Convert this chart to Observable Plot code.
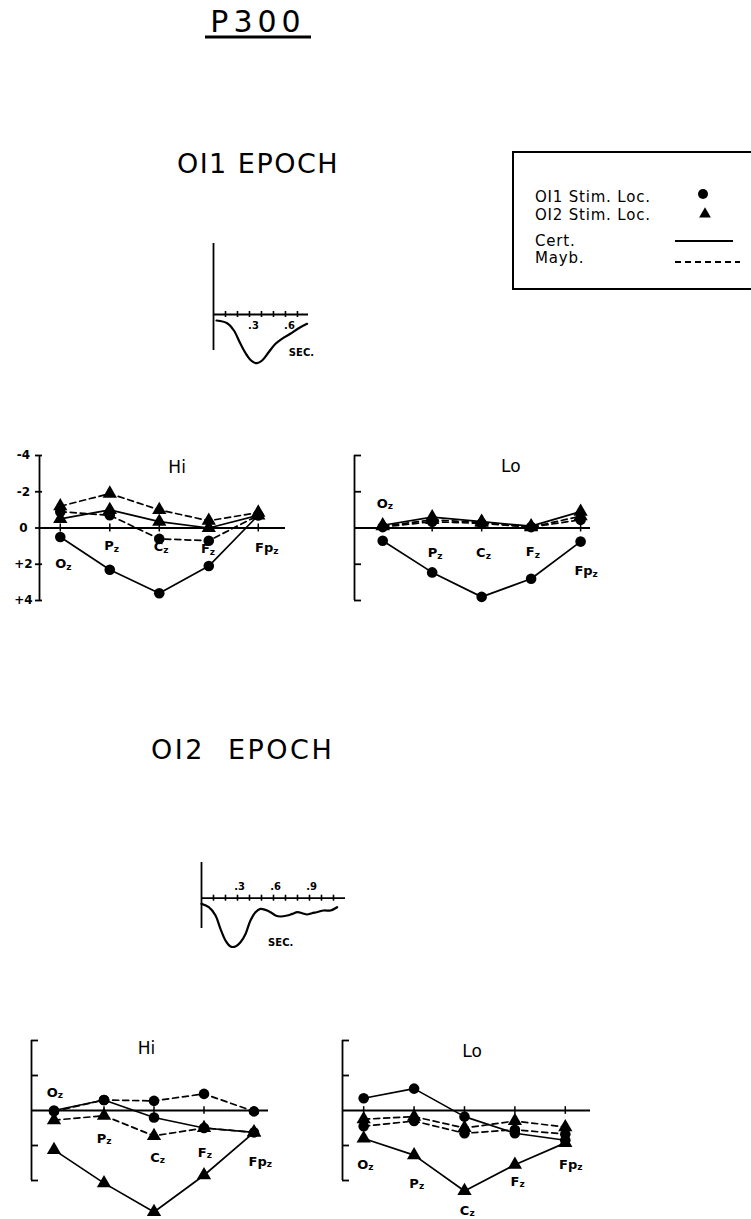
<!DOCTYPE html>
<html><head><meta charset="utf-8">
<script src="https://cdn.jsdelivr.net/npm/d3@7"></script>
<script src="https://cdn.jsdelivr.net/npm/@observablehq/plot@0.6"></script>
<style>
html,body{margin:0;padding:0;background:#fff;}
body{width:751px;height:1219px;overflow:hidden;position:relative;font-family:"DejaVu Sans",sans-serif;color:#000;}
.abs{position:absolute;}
svg{overflow:visible;}
</style></head><body>
<script>
// ---------- DATA ----------
const electrodes = ["O", "P", "C", "F", "Fp"];   // each with subscript "z"
const electrodeSub = "z";
const stimLocs = ["OI1", "OI2"];                // OI1 = circle, OI2 = triangle
const ratings = ["Cert", "Mayb"];               // Cert = solid, Mayb = dashed
const yTicks = [-4, -2, 0, 2, 4];
const yTickLabels = ["-4", "-2", "0", "+2", "+4"];
const bracketTicks = [-4, -2, 2, 4];

// OI1 epoch, Hi
const oi1Hi_OI1Cert = [0.5, 2.3, 3.6, 2.1, -0.7];
const oi1Hi_OI1Mayb = [-0.9, -0.7, 0.6, 0.7, -0.7];
const oi1Hi_OI2Cert = [-0.5, -1.0, -0.35, 0.0, -0.7];
const oi1Hi_OI2Mayb = [-1.2, -1.9, -1.0, -0.4, -0.85];
// OI1 epoch, Lo
const oi1Lo_OI1Cert = [0.7, 2.45, 3.8, 2.8, 0.75];
const oi1Lo_OI1Mayb = [-0.05, -0.35, -0.25, -0.05, -0.45];
const oi1Lo_OI2Cert = [-0.15, -0.6, -0.35, -0.1, -0.9];
const oi1Lo_OI2Mayb = [-0.1, -0.45, -0.3, -0.05, -0.65];
// OI2 epoch, Hi
const oi2Hi_OI1Cert = [0.0, -0.6, 0.4, 1.0, 1.25];
const oi2Hi_OI1Mayb = [0.05, -0.6, -0.55, -0.95, 0.05];
const oi2Hi_OI2Cert = [2.25, 4.15, 5.8, 3.7, 1.25];
const oi2Hi_OI2Mayb = [0.55, 0.3, 1.45, 1.0, 1.25];
// OI2 epoch, Lo
const oi2Lo_OI1Cert = [-0.7, -1.25, 0.35, 1.3, 1.7];
const oi2Lo_OI1Mayb = [0.9, 0.6, 1.3, 1.1, 1.35];
const oi2Lo_OI2Cert = [1.6, 2.55, 4.6, 3.1, 1.85];
const oi2Lo_OI2Mayb = [0.5, 0.35, 1.0, 0.6, 0.95];

// inset waveforms (time in s, amplitude, positive downward)
const wave1T = [0.025, 0.114, 0.17, 0.225, 0.28, 0.32, 0.364, 0.405, 0.46, 0.517, 0.57, 0.64, 0.71, 0.78];
const wave1A = [0.6, 0.87, 1.6, 2.93, 4.1, 4.67, 4.87, 4.6, 3.77, 2.93, 2.43, 1.93, 1.37, 0.93];
const wave1Ticks = [0.1, 0.2, 0.3, 0.4, 0.5, 0.6, 0.7];
const wave1TickT = [0.3, 0.6];
const wave1TickLabels = [".3", ".6"];

const wave2T = [0, 0.061, 0.117, 0.158, 0.2, 0.242, 0.283, 0.325, 0.367, 0.408, 0.45, 0.49, 0.533, 0.575, 0.617, 0.658, 0.714, 0.756, 0.8, 0.839, 0.88, 0.92, 0.96, 1.02, 1.075, 1.13];
const wave2A = [0.57, 0.9, 1.73, 3.07, 4.23, 4.83, 4.83, 4.4, 3.57, 2.23, 1.4, 1.07, 1.17, 1.4, 1.73, 1.83, 1.73, 1.57, 1.4, 1.5, 1.63, 1.5, 1.4, 1.23, 1.23, 0.9];
const wave2Ticks = [0.1, 0.2, 0.3, 0.4, 0.5, 0.6, 0.7, 0.8, 0.9, 1.0, 1.1];
const wave2TickT = [0.3, 0.6, 0.9];
const wave2TickLabels = [".3", ".6", ".9"];

const panelValues = {
  oi1Hi: {OI1Cert: oi1Hi_OI1Cert, OI1Mayb: oi1Hi_OI1Mayb, OI2Cert: oi1Hi_OI2Cert, OI2Mayb: oi1Hi_OI2Mayb},
  oi1Lo: {OI1Cert: oi1Lo_OI1Cert, OI1Mayb: oi1Lo_OI1Mayb, OI2Cert: oi1Lo_OI2Cert, OI2Mayb: oi1Lo_OI2Mayb},
  oi2Hi: {OI1Cert: oi2Hi_OI1Cert, OI1Mayb: oi2Hi_OI1Mayb, OI2Cert: oi2Hi_OI2Cert, OI2Mayb: oi2Hi_OI2Mayb},
  oi2Lo: {OI1Cert: oi2Lo_OI1Cert, OI1Mayb: oi2Lo_OI1Mayb, OI2Cert: oi2Lo_OI2Cert, OI2Mayb: oi2Lo_OI2Mayb}
};

// ---------- LAYOUT ----------
const panels = [
  {key: "oi1Hi", title: "Hi", numbered: true, left: 0, top: 440, width: 300, height: 180,
   marginLeft: 39, marginRight: 15, marginTop: 15, marginBottom: 20, xDomain: [-0.42, 4.55],
   titleX: 2.36, titleY: -3.35, labDx: [6, 4, 4, 1, 15], labY: [1.98, 0.99, 1.04, 1.15, 1.1]},
  {key: "oi1Lo", title: "Lo", numbered: false, left: 330, top: 440, width: 290, height: 180,
   marginLeft: 24, marginRight: 30, marginTop: 15, marginBottom: 20, xDomain: [-0.57, 4.2],
   titleX: 2.59, titleY: -3.4, labDx: [5, 5, 4, 3.5, 12], labY: [-1.35, 1.37, 1.37, 1.32, 2.37]},
  {key: "oi2Hi", title: "Hi", numbered: false, left: 0, top: 1025, width: 300, height: 194,
   marginLeft: 31, marginRight: 32, marginTop: 15, marginBottom: 39, xDomain: [-0.45, 4.29],
   titleX: 1.85, titleY: -3.54, labDx: [3.7, 2.2, 5.7, 2.7, 12.7], labY: [-1.03, 1.6, 2.69, 2.4, 2.91]},
  {key: "oi2Lo", title: "Lo", numbered: false, left: 320, top: 1025, width: 300, height: 194,
   marginLeft: 22, marginRight: 30, marginTop: 15, marginBottom: 39, xDomain: [-0.42, 4.5],
   titleX: 2.15, titleY: -3.37, labDx: [4.7, 4.8, 4.9, 4.5, 12], labY: [3.09, 4.17, 5.71, 4.06, 3.09]}
];

const insets = [
  {t: wave1T, a: wave1A, ticks: wave1Ticks, tickT: wave1TickT, tickLabels: wave1TickLabels,
   left: 200, top: 235, width: 130, height: 140, marginLeft: 13, marginRight: 22, marginTop: 8, marginBottom: 25,
   xDomain: [0, 0.792], yDomain: [3.6, -7.1], labelY: 1.15, labelDx: 4, secT: 0.733, secA: 3.85},
  {t: wave2T, a: wave2A, ticks: wave2Ticks, tickT: wave2TickT, tickLabels: wave2TickLabels,
   left: 190, top: 855, width: 170, height: 100, marginLeft: 11, marginRight: 15, marginTop: 7, marginBottom: 27,
   xDomain: [0, 1.2], yDomain: [3.03, -3.57], labelY: -1.1, labelDx: 2, secT: 0.66, secA: 4.43}
];

// ---------- BUILD ----------
function place(node, L) {
  const div = document.createElement("div");
  div.className = "abs";
  div.style.left = L.left + "px";
  div.style.top = L.top + "px";
  div.style.width = L.width + "px";
  div.style.height = L.height + "px";
  div.appendChild(node);
  document.body.appendChild(div);
}

function panelRows(vals) {
  const rows = [];
  for (const stim of stimLocs) for (const r of ratings) {
    vals[stim + r].forEach((v, i) => rows.push({i, e: electrodes[i], v, stim, rating: r}));
  }
  return rows;
}

function makePanel(L) {
  const [x0, x1] = L.xDomain;
  const ppu = (L.width - L.marginLeft - L.marginRight) / (x1 - x0);
  const rows = panelRows(panelValues[L.key]);
  const marks = [];
  marks.push(Plot.ruleX([x0], {y1: -4, y2: 4, stroke: "#000", strokeWidth: 1.8}));
  if (L.numbered) {
    marks.push(Plot.ruleY(yTicks, {x1: x0 - 4 / ppu, x2: x0 + 3 / ppu, stroke: "#000", strokeWidth: 1.8}));
    marks.push(Plot.text(yTicks, {x: x0, y: d => d, text: (d, i) => yTickLabels[i], dx: -16,
      fontSize: 12, fontWeight: "bold", fill: "#000"}));
  } else {
    marks.push(Plot.ruleY(bracketTicks, {x1: x0, x2: x0 + 7 / ppu, stroke: "#000", strokeWidth: 1.8}));
  }
  marks.push(Plot.ruleY([0], {x1: x0, x2: x1, stroke: "#000", strokeWidth: 1.8}));
  marks.push(Plot.ruleX(d3.range(electrodes.length), {y1: -0.22, y2: 0.22, stroke: "#000", strokeWidth: 1.5}));
  for (const stim of stimLocs) for (const r of ratings) {
    marks.push(Plot.line(rows.filter(d => d.stim === stim && d.rating === r), {
      x: "i", y: "v", stroke: "#000", strokeWidth: 1.7,
      strokeDasharray: r === "Mayb" ? "6,4" : null
    }));
  }
  marks.push(Plot.dot(rows.filter(d => d.stim === "OI1"), {x: "i", y: "v", symbol: "circle", fill: "#000", r: 5.3}));
  marks.push(Plot.dot(rows.filter(d => d.stim === "OI2"), {x: "i", y: "v", symbol: "triangle", fill: "#000", r: 5.3}));
  marks.push(Plot.text(electrodes, {x: (d, i) => i + L.labDx[i] / ppu, y: (d, i) => L.labY[i], text: d => d,
    textAnchor: "end", fontSize: 13, fontWeight: "bold", fill: "#000"}));
  marks.push(Plot.text(electrodes, {x: (d, i) => i + L.labDx[i] / ppu, y: (d, i) => L.labY[i], text: () => electrodeSub,
    textAnchor: "start", dy: 3, fontSize: 9, fontWeight: "bold", fill: "#000"}));
  marks.push(Plot.text([L.title], {x: L.titleX, y: L.titleY, text: d => d, fontSize: 17, fill: "#000"}));
  return Plot.plot({
    width: L.width, height: L.height,
    marginLeft: L.marginLeft, marginRight: L.marginRight, marginTop: L.marginTop, marginBottom: L.marginBottom,
    x: {domain: L.xDomain, axis: null},
    y: {domain: [4, -4], axis: null},
    style: {background: "transparent", overflow: "visible", fontFamily: "DejaVu Sans"},
    marks
  });
}

function makeInset(L) {
  const rows = L.t.map((t, i) => ({t, a: L.a[i]}));
  const [x0, x1] = L.xDomain;
  const [yb, yt] = L.yDomain;
  return Plot.plot({
    width: L.width, height: L.height,
    marginLeft: L.marginLeft, marginRight: L.marginRight, marginTop: L.marginTop, marginBottom: L.marginBottom,
    x: {domain: [x0, x1], axis: null},
    y: {domain: [yb, yt], axis: null},
    style: {background: "transparent", overflow: "visible", fontFamily: "DejaVu Sans"},
    marks: [
      Plot.ruleX([0], {y1: yb, y2: yt, stroke: "#000", strokeWidth: 1.8}),
      Plot.ruleY([0], {x1: 0, x2: x1, stroke: "#000", strokeWidth: 1.8}),
      Plot.ruleX(L.ticks, {y1: -0.3, y2: 0.3, stroke: "#000", strokeWidth: 1.6}),
      Plot.line(rows, {x: "t", y: "a", curve: "catmull-rom", stroke: "#000", strokeWidth: 2.2}),
      Plot.text(L.tickLabels, {x: (d, i) => L.tickT[i], y: L.labelY, text: d => d, dx: L.labelDx,
        fontSize: 10, fontWeight: "bold", fill: "#000"}),
      Plot.text(["SEC."], {x: L.secT, y: L.secA, text: d => d, fontSize: 10, fontWeight: "bold", fill: "#000"})
    ]
  });
}

// overlay: titles and legend
const NS = "http://www.w3.org/2000/svg";
const ov = document.createElementNS(NS, "svg");
ov.setAttribute("width", 751); ov.setAttribute("height", 1219);
ov.setAttribute("class", "abs"); ov.style.left = "0px"; ov.style.top = "0px";
function el(tag, attrs, text) {
  const e = document.createElementNS(NS, tag);
  for (const k in attrs) e.setAttribute(k, attrs[k]);
  if (text != null) e.textContent = text;
  ov.appendChild(e);
  return e;
}
el("text", {x: 258, y: 32, "text-anchor": "middle", "font-size": 30, "letter-spacing": 5, "font-family": "DejaVu Sans"}, "P300");
el("line", {x1: 205, x2: 311, y1: 37, y2: 37, stroke: "#000", "stroke-width": 3});
el("text", {x: 258, y: 173, "text-anchor": "middle", "font-size": 27, "letter-spacing": 1.5, "font-family": "DejaVu Sans"}, "OI1 EPOCH");
el("text", {x: 151, y: 759, "text-anchor": "start", "font-size": 27, "letter-spacing": 2.5, "word-spacing": 12, "font-family": "DejaVu Sans"}, "OI2 EPOCH");
// legend box (right side runs off the page)
el("path", {d: "M780,152 H513 V289 H780", fill: "none", stroke: "#000", "stroke-width": 2});
const legendRows = [
  {label: "OI1 Stim. Loc.", y: 202},
  {label: "OI2 Stim. Loc.", y: 220},
  {label: "Cert.", y: 246},
  {label: "Mayb.", y: 263}
];
legendRows.forEach(r => el("text", {x: 535, y: r.y, "font-size": 15, "letter-spacing": 0.8, "font-family": "DejaVu Sans"}, r.label));
el("circle", {cx: 703, cy: 194, r: 5, fill: "#000"});
el("path", {d: d3.symbol(d3.symbolTriangle, 60)(), transform: "translate(705,214)", fill: "#000"});
el("line", {x1: 675, x2: 733, y1: 241, y2: 241, stroke: "#000", "stroke-width": 1.8});
el("line", {x1: 675, x2: 740, y1: 262, y2: 262, stroke: "#000", "stroke-width": 1.8, "stroke-dasharray": "6,4"});
document.body.appendChild(ov);

panels.forEach(L => place(makePanel(L), L));
insets.forEach(L => place(makeInset(L), L));
</script>
</body></html>
